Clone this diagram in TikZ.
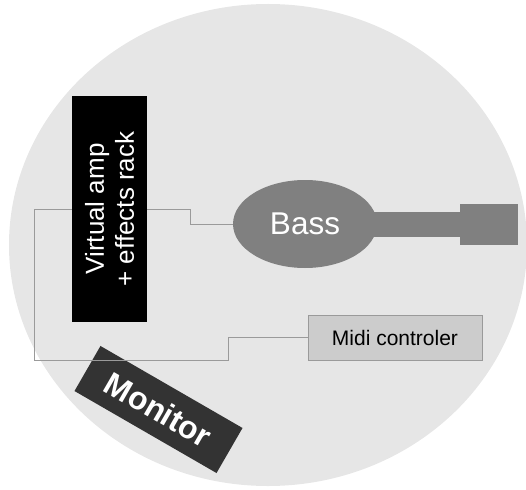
\documentclass[tikz,border=0pt]{standalone}
\usepackage{fontspec}
\setmainfont{Liberation Sans}
\usetikzlibrary{positioning}
\usetikzlibrary{shapes.geometric}

\definecolor{roombg}{HTML}{E6E6E6}
\definecolor{bassgray}{HTML}{808080}
\definecolor{wiregray}{HTML}{9A9A9A}
\definecolor{midifill}{HTML}{CCCCCC}
\definecolor{monfill}{HTML}{333333}

\tikzset{
  gear/.style={rectangle, inner sep=0pt, align=center},
  wire/.style={draw=wiregray, line width=0.9pt},
}

\begin{document}
\begin{tikzpicture}[x=1pt, y=-1pt]
        \useasboundingbox (0,0) rectangle (526,489);
        % stage area
        \fill[roombg] (268,245) ellipse [x radius=259, y radius=241];

        % Define nodes
        \node[gear, fill=black, text=white, rotate=90, minimum width=226pt, minimum height=75pt,
              font=\fontsize{26}{30}\selectfont](amp) at (109.5,209){Virtual amp\\+ effects rack}; %
        \node[ellipse, fill=bassgray, text=white, inner sep=0pt, minimum width=144pt, minimum height=88pt,
              font=\fontsize{31.5}{36}\selectfont](bass) at (305,224){Bass\hspace{8pt}}; %
        \node[gear, fill=bassgray, minimum width=88pt, minimum height=25pt](neck) at (416,224.5){}; %
        \node[gear, fill=bassgray, right=0pt of neck, minimum width=58pt, minimum height=41pt](head){}; %
        \node[gear, fill=midifill, draw=wiregray, line width=0.9pt, minimum width=174pt, minimum height=45pt,
              font=\fontsize{21}{25}\selectfont](midi) at (395,337.5){Midi controler}; %
        \node[gear, fill=monfill, text=white, rotate=-30, minimum width=164pt, minimum height=52pt,
              font=\bfseries\fontsize{32}{38}\selectfont](monitor) at (158.5,409.5){Monitor}; %

        % cables
        \coordinate (amp_l) at (34,209);
        \coordinate (low) at (228,360);
        \coordinate (amp_r) at (190,209);

        \draw[wire] (amp.north) -- (amp_l) |- (low) |- (midi.west);
        \draw[wire] (amp.south) -- (amp_r) |- (bass.west);
    \end{tikzpicture}
\end{document}
